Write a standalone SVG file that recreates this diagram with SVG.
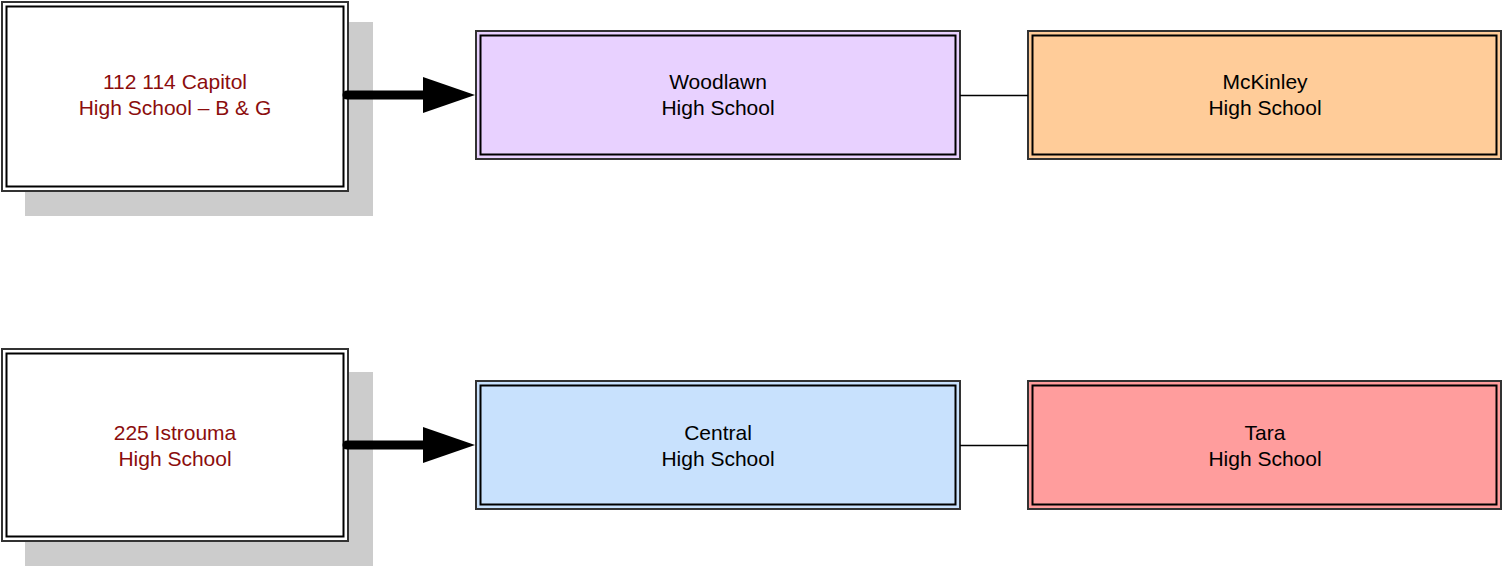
<svg xmlns="http://www.w3.org/2000/svg" width="1502" height="566" viewBox="0 0 1502 566">
<style>
.shadow{fill:#cccccc}
.outer{stroke:#333;stroke-width:2}
.inner{fill:none;stroke:#000;stroke-width:2}
.t{font-family:"Liberation Sans",Arial,sans-serif;font-size:21px;text-anchor:middle}
.red{fill:#8b0d0d}
.blk{fill:#000}
.conn{stroke:#000;fill:none}
</style>
<defs>
<marker id="ah" viewBox="0 0 52 36" refX="0" refY="18" markerWidth="52" markerHeight="36" markerUnits="userSpaceOnUse" orient="auto">
<path d="M0,0 L52,18 L0,36 Z" fill="#000"/>
</marker>
</defs>
<g id="capitol">
<rect class="shadow" x="25" y="22" width="348" height="194"/>
<rect class="outer" x="2" y="2" width="346" height="189" fill="#fff"/>
<rect class="inner" x="6.5" y="6.5" width="337" height="180"/>
<text class="t red" x="175" y="89">112 114 Capitol</text>
<text class="t red" x="175" y="115">High School – B &amp; G</text>
</g>
<g id="istrouma">
<rect class="shadow" x="25" y="372" width="348" height="200"/>
<rect class="outer" x="2" y="349" width="346" height="192" fill="#fff"/>
<rect class="inner" x="6.5" y="353.5" width="337" height="183"/>
<text class="t red" x="175" y="440">225 Istrouma</text>
<text class="t red" x="175" y="466">High School</text>
</g>
<g id="woodlawn">
<rect class="outer" x="476" y="31" width="484" height="128" fill="#e8d1ff"/>
<rect class="inner" x="480.5" y="35.5" width="475" height="119"/>
<text class="t blk" x="718" y="89">Woodlawn</text>
<text class="t blk" x="718" y="115">High School</text>
</g>
<g id="mckinley">
<rect class="outer" x="1028" y="31" width="473" height="128" fill="#ffcc99"/>
<rect class="inner" x="1032.5" y="35.5" width="464" height="119"/>
<text class="t blk" x="1265" y="89">McKinley</text>
<text class="t blk" x="1265" y="115">High School</text>
</g>
<g id="central">
<rect class="outer" x="476" y="381" width="484" height="128" fill="#c8e1fd"/>
<rect class="inner" x="480.5" y="385.5" width="475" height="119"/>
<text class="t blk" x="718" y="440">Central</text>
<text class="t blk" x="718" y="466">High School</text>
</g>
<g id="tara">
<rect class="outer" x="1028" y="381" width="473" height="128" fill="#ff9d9d"/>
<rect class="inner" x="1032.5" y="385.5" width="464" height="119"/>
<text class="t blk" x="1265" y="440">Tara</text>
<text class="t blk" x="1265" y="466">High School</text>
</g>
<g id="connectors">
<path class="conn" d="M347,95 L423,95" stroke-width="9" stroke-linecap="round" marker-end="url(#ah)"/>
<path class="conn" d="M347,445 L423,445" stroke-width="9" stroke-linecap="round" marker-end="url(#ah)"/>
<path class="conn" d="M960,95.5 L1028,95.5" stroke-width="1.5"/>
<path class="conn" d="M960,445.5 L1028,445.5" stroke-width="1.5"/>
</g>
</svg>
